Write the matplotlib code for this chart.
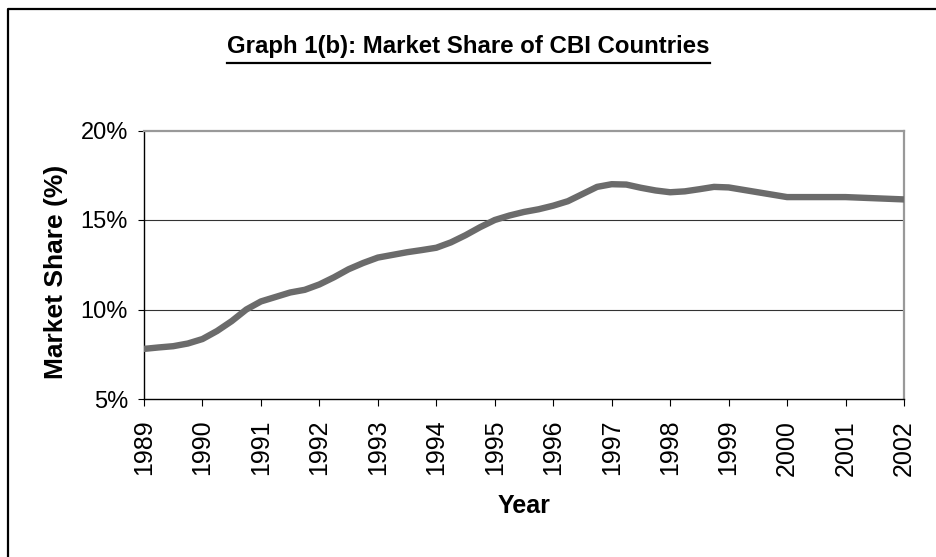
import numpy as np
import matplotlib.pyplot as plt
from matplotlib.lines import Line2D
from matplotlib.ticker import FuncFormatter

# values (fractional years, market share in %)
years = [1989.0, 1989.25, 1989.5, 1989.75, 1990.0, 1990.25, 1990.5, 1990.75,
         1991.0, 1991.25, 1991.5, 1991.75, 1992.0, 1992.25, 1992.5, 1992.75,
         1993.0, 1993.25, 1993.5, 1993.75, 1994.0, 1994.25, 1994.5, 1994.75,
         1995.0, 1995.25, 1995.5, 1995.75, 1996.0, 1996.25, 1996.5, 1996.75,
         1997.0, 1997.25, 1997.5, 1997.75, 1998.0, 1998.25, 1998.5, 1998.75,
         1999.0, 1999.5, 2000.0, 2001.0, 2002.0]
share = [7.8, 7.88, 7.95, 8.1, 8.35, 8.8, 9.35, 10.0,
         10.45, 10.7, 10.95, 11.1, 11.4, 11.8, 12.25, 12.6,
         12.9, 13.05, 13.2, 13.32, 13.45, 13.75, 14.15, 14.6,
         15.0, 15.25, 15.45, 15.6, 15.8, 16.05, 16.45, 16.85,
         17.0, 16.98, 16.8, 16.65, 16.55, 16.6, 16.72, 16.85,
         16.82, 16.55, 16.28, 16.28, 16.15]
year_ticks = list(range(1989, 2003))
share_ticks = [5, 10, 15, 20]

plt.rcParams['font.family'] = ['Liberation Sans', 'DejaVu Sans']

W, H = 937, 557
fig = plt.figure(figsize=(W / 100, H / 100), dpi=100)
ax = fig.add_axes([144 / W, 1 - 399 / H, (904 - 144) / W, (399 - 130.5) / H])

ax.plot(years, share, color="#6b6b6b", lw=4.6, solid_capstyle="round",
        solid_joinstyle="round", zorder=3)

ax.set_xlim(1989, 2002)
ax.set_ylim(5, 20)
ax.set_xticks(year_ticks)
ax.set_xticklabels([str(y) for y in year_ticks], rotation=90)
ax.set_yticks(share_ticks)
ax.yaxis.set_major_formatter(FuncFormatter(lambda v, p: "%d%%" % v))
ax.tick_params(axis="y", direction="out", length=4.5, width=0.8, pad=7,
               labelsize=17)
ax.tick_params(axis="x", direction="out", length=5, width=0.8, pad=10,
               labelsize=18)

for v in [10, 15]:
    ax.axhline(v, color="#333333", lw=0.8, zorder=1)

ax.spines["left"].set_color("black")
ax.spines["bottom"].set_color("black")
ax.spines["left"].set_linewidth(1.0)
ax.spines["bottom"].set_linewidth(1.0)
ax.spines["top"].set_color("#999999")
ax.spines["right"].set_color("#999999")
ax.spines["top"].set_linewidth(1.6)
ax.spines["right"].set_linewidth(1.6)

ax.set_ylabel("Market Share (%)", fontsize=19, fontweight="bold")
ax.yaxis.set_label_coords(-0.1, 0.473)
ax.set_xlabel("Year", fontsize=18, fontweight="bold", labelpad=13)

# title with underline
title = fig.text(0.5, 1 - 53 / H, "Graph 1(b): Market Share of CBI Countries",
                 ha="center", va="baseline", fontsize=17.3, fontweight="bold")
fig.canvas.draw()
bb = title.get_window_extent(fig.canvas.get_renderer())
uy = 1 - 63 / H
fig.add_artist(Line2D([bb.x0 / W, bb.x1 / W], [uy, uy],
                      transform=fig.transFigure, color="black", lw=1.6))

# outer frame (runs off the right and bottom edges)
fig.add_artist(Line2D([8.5 / W, 8.5 / W, 1.0], [0.0, 1 - 9 / H, 1 - 9 / H],
                      transform=fig.transFigure, color="black", lw=1.6))

fig.savefig("out.png", dpi=100)
